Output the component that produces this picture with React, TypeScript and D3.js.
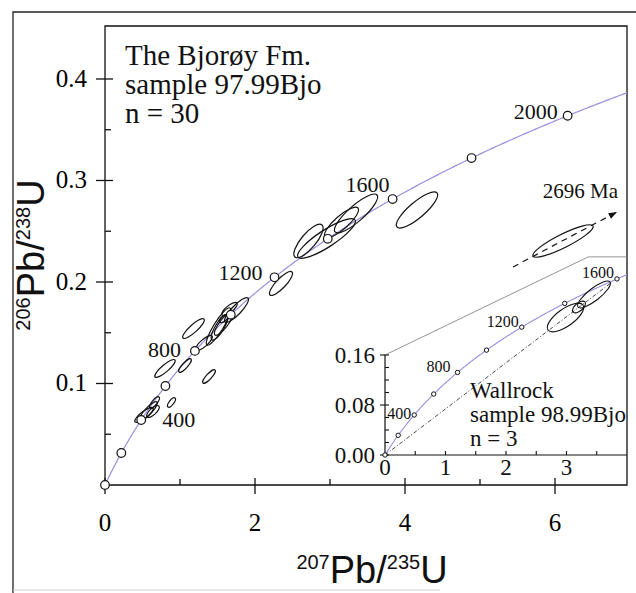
import React from "react";
import * as d3 from "d3";

// decay constants (per year)
const L238 = 1.55125e-10;
const L235 = 9.8485e-10;

const mainAges = [0, 200, 400, 600, 800, 1000, 1200, 1400, 1600, 1800, 2000];
const mainLabels = [400, 800, 1200, 1600, 2000];
const insetAges = [0, 200, 400, 600, 800, 1000, 1200, 1400, 1600];
const insetLabels = [400, 800, 1200, 1600];

const xMajor = [0, 2, 4, 6];
const xMinor = [1, 3, 5];
const yMajor = [0.1, 0.2, 0.3, 0.4];
const yMinor = [0.05, 0.15, 0.25, 0.35];

const insetXMajor = [0, 1, 2, 3];
const insetXMinor = [0.5, 1, 1.5, 2, 2.5, 3, 3.5];
const insetYMajor = [0, 0.08, 0.16];
const insetYMinor = [0.02, 0.04, 0.06, 0.1, 0.12, 0.14];

// error ellipses: major axis end points [x1, y1, x2, y2] and minor/major ratio
const sampleEllipses = [
  [0.4, 0.0621, 0.64, 0.0759, 0.3],
  [0.467, 0.064, 0.693, 0.0818, 0.28],
  [0.56, 0.067, 0.72, 0.0778, 0.4],
  [0.6, 0.0759, 0.72, 0.0867, 0.35],
  [0.84, 0.0768, 0.933, 0.0857, 0.4],
  [0.667, 0.1064, 0.933, 0.1232, 0.27],
  [0.987, 0.1113, 1.147, 0.1241, 0.3],
  [1.307, 0.1005, 1.467, 0.1133, 0.3],
  [1.04, 0.1448, 1.32, 0.1635, 0.27],
  [1.213, 0.133, 1.427, 0.1468, 0.33],
  [1.36, 0.1379, 1.667, 0.1744, 0.22],
  [1.427, 0.1429, 1.627, 0.1675, 0.3],
  [1.467, 0.1478, 1.693, 0.1695, 0.3],
  [1.533, 0.1606, 1.64, 0.1675, 0.5],
  [1.6, 0.1606, 1.907, 0.1842, 0.28],
  [1.56, 0.1675, 1.76, 0.1793, 0.35],
  [2.2, 0.1872, 2.493, 0.2099, 0.3],
  [2.533, 0.2246, 2.893, 0.2562, 0.35],
  [2.573, 0.2246, 3.333, 0.2611, 0.25],
  [2.933, 0.2443, 3.373, 0.2729, 0.3],
  [3.067, 0.2493, 3.627, 0.2857, 0.28],
  [3.893, 0.2542, 4.427, 0.2877, 0.3],
  [5.707, 0.2256, 6.507, 0.2552, 0.2],
];

const wallrockEllipses = [
  [2.694, 0.2, 3.273, 0.24, 0.4],
  [3.19, 0.2368, 3.719, 0.2768, 0.3],
  [3.107, 0.2288, 3.306, 0.2448, 0.5],
];

const trendLine = [[5.44, 0.2148], [6.827, 0.269]];
const wallrockDiscordia = [[0, 0], [3.75, 0.2765]];
const insetOutline = [[0, 0.16], [3.36, 0.317], [4, 0.317]];

const sampleText = ["The Bjorøy Fm.", "sample 97.99Bjo", "n = 30"];
const wallrockText = ["Wallrock", "sample 98.99Bjo", "n = 3"];
const trendAgeText = "2696 Ma";

// label offsets from the age marker, px
const mainLabelPos: Record<number, [number, number, string]> = {
  400: [21, 7, "start"],
  800: [-14, 6, "end"],
  1200: [-12, 3, "end"],
  1600: [-3, -7, "end"],
  2000: [-10, 3, "end"],
};
const insetLabelPos: Record<number, [number, number, string]> = {
  400: [-3, 4, "end"],
  800: [-7, 0, "end"],
  1200: [-3, 0, "end"],
  1600: [-3, -1, "end"],
};

const serif = "'Liberation Serif', 'Times New Roman', serif";
const sans = "'Liberation Sans', Arial, sans-serif";
const purple = "#9d8ce0";

const conc = (ma: number) => [Math.exp(L235 * ma * 1e6) - 1, Math.exp(L238 * ma * 1e6) - 1];

function ellipseEl(e: number[], sx: any, sy: any, key: string, extra: any = {}) {
  const [x1, y1, x2, y2, r] = e;
  const px1 = sx(x1), py1 = sy(y1), px2 = sx(x2), py2 = sy(y2);
  const cx = (px1 + px2) / 2, cy = (py1 + py2) / 2;
  const a = Math.hypot(px2 - px1, py2 - py1) / 2;
  const ang = (Math.atan2(py2 - py1, px2 - px1) * 180) / Math.PI;
  return (
    <ellipse key={key} cx={cx} cy={cy} rx={a} ry={a * r}
      transform={`rotate(${ang},${cx},${cy})`} fill="none" stroke="#111" strokeWidth={1.2} {...extra} />
  );
}

export default function App() {
  const W = 636, H = 593;
  const x = d3.scaleLinear().domain([0, 6.96]).range([105, 627]);
  const y = d3.scaleLinear().domain([0, 0.4522]).range([485, 26]);
  const ix = d3.scaleLinear().domain([0, 4]).range([385, 627]);
  const iy = d3.scaleLinear().domain([0, 0.16]).range([455, 355]);

  const tMain = Math.log(1 + x.domain()[1]) / L235 / 1e6;
  const tInset = Math.log(1 + ix.domain()[1]) / L235 / 1e6;
  const mainCurve = d3.range(0, tMain, 5).concat([tMain]).map(conc);
  const insetCurve = d3.range(0, tInset, 5).concat([tInset]).map(conc);

  const line = d3.line<number[]>().x((d) => x(d[0])).y((d) => y(d[1]));
  const iline = d3.line<number[]>().x((d) => ix(d[0])).y((d) => iy(d[1]));

  const [t0, t1] = trendLine;
  const ax = x(t1[0]), ay = y(t1[1]);
  const angArrow = Math.atan2(ay - y(t0[1]), ax - x(t0[0]));

  return (
    <svg width={W} height={H} style={{ position: "absolute", left: 0, top: 0, background: "#fff" }}>
      {/* outer frame */}
      <path d="M13,593 V12 H636" fill="none" stroke="#222" strokeWidth={1.3} />
      <line x1={13} x2={440} y1={590} y2={590} stroke="#ccc" strokeWidth={1} />

      {/* plot box */}
      <path d={`M${x(0)},${y(0)} V${y.range()[1]} H${x.range()[1]} V${y(0)} H${x(0)}`} fill="none" stroke="#111" strokeWidth={1.3} />

      {/* x ticks */}
      {xMajor.map((v) => (
        <g key={"xm" + v}>
          <line x1={x(v)} x2={x(v)} y1={y(0) - 7} y2={y(0) + 9} stroke="#111" strokeWidth={1.3} />
          <text x={x(v)} y={y(0) + 46} textAnchor="middle" fontFamily={serif} fontSize={25}>{v}</text>
        </g>
      ))}
      {xMinor.map((v) => (
        <line key={"xn" + v} x1={x(v)} x2={x(v)} y1={y(0) - 6} y2={y(0)} stroke="#111" strokeWidth={1.3} />
      ))}
      {/* y ticks */}
      {yMajor.map((v) => (
        <g key={"ym" + v}>
          <line x1={x(0) - 9} x2={x(0) + 8} y1={y(v)} y2={y(v)} stroke="#111" strokeWidth={1.3} />
          <text x={x(0) - 18} y={y(v) + 8} textAnchor="end" fontFamily={serif} fontSize={25}>{v.toFixed(1)}</text>
        </g>
      ))}
      {yMinor.map((v) => (
        <line key={"yn" + v} x1={x(0)} x2={x(0) + 6} y1={y(v)} y2={y(v)} stroke="#111" strokeWidth={1.3} />
      ))}

      {/* axis titles */}
      <text x={372} y={583} textAnchor="middle" fontFamily={sans} fill="#111">
        <tspan fontSize={20} dy={-14}>207</tspan>
        <tspan fontSize={38} dy={14}>Pb/</tspan>
        <tspan fontSize={20} dy={-14}>235</tspan>
        <tspan fontSize={38} dy={14}>U</tspan>
      </text>
      <text transform="translate(44,255) rotate(-90)" textAnchor="middle" fontFamily={sans} fill="#111">
        <tspan fontSize={20} dy={-14}>206</tspan>
        <tspan fontSize={38} dy={14}>Pb/</tspan>
        <tspan fontSize={20} dy={-14}>238</tspan>
        <tspan fontSize={38} dy={14}>U</tspan>
      </text>

      {/* sample text */}
      {sampleText.map((s, i) => (
        <text key={s} x={125} y={65 + i * 29} fontFamily={serif} fontSize={29} fill="#111">{s}</text>
      ))}

      {/* concordia main */}
      <path d={line(mainCurve) || ""} fill="none" stroke={purple} strokeWidth={1.2} />

      {/* ellipses */}
      {sampleEllipses.map((e, i) => ellipseEl(e, x, y, "se" + i))}

      {/* trend to 2696 Ma */}
      <path d={line(trendLine) || ""} fill="none" stroke="#111" strokeWidth={1.2} strokeDasharray="6,5" />
      <path d={`M${ax},${ay} l${-9 * Math.cos(angArrow - 0.35)},${-9 * Math.sin(angArrow - 0.35)} l${9 * Math.cos(angArrow - 0.35) - 9 * Math.cos(angArrow + 0.35)},${9 * Math.sin(angArrow - 0.35) - 9 * Math.sin(angArrow + 0.35)} Z`} fill="#111" />
      <text x={618} y={198} textAnchor="end" fontFamily={serif} fontSize={21} fill="#111">{trendAgeText}</text>

      {/* concordia markers */}
      {mainAges.map((a) => {
        const [cx, cy] = conc(a);
        return <circle key={"mc" + a} cx={x(cx)} cy={y(cy)} r={4.3} fill="#fff" stroke="#111" strokeWidth={1.2} />;
      })}
      {mainLabels.map((a) => {
        const [cx, cy] = conc(a);
        const [dx, dy, anchor] = mainLabelPos[a];
        return (
          <text key={"ml" + a} x={x(cx) + dx} y={y(cy) + dy} textAnchor={anchor as any} fontFamily={serif} fontSize={22} fill="#111">{a}</text>
        );
      })}

      {/* inset */}
      <path d={iline(insetOutline) || ""} fill="none" stroke="#777" strokeWidth={0.8} />
      <line x1={ix(0)} x2={ix(0)} y1={iy(0)} y2={iy(0.16)} stroke="#111" strokeWidth={1.2} />
      <line x1={ix(0)} x2={ix.range()[1]} y1={iy(0)} y2={iy(0)} stroke="#111" strokeWidth={1.2} />
      {insetXMinor.map((v) => (
        <line key={"ixn" + v} x1={ix(v)} x2={ix(v)} y1={iy(0) - 4} y2={iy(0)} stroke="#111" strokeWidth={1.1} />
      ))}
      {insetXMajor.map((v) => (
        <text key={"ixm" + v} x={ix(v)} y={iy(0) + 20} textAnchor="middle" fontFamily={serif} fontSize={23} fill="#111">{v}</text>
      ))}
      {insetYMinor.map((v) => (
        <line key={"iyn" + v} x1={ix(0)} x2={ix(0) + 4} y1={iy(v)} y2={iy(v)} stroke="#111" strokeWidth={1.1} />
      ))}
      {insetYMajor.map((v) => (
        <g key={"iym" + v}>
          <line x1={ix(0) - 5} x2={ix(0) + 4} y1={iy(v)} y2={iy(v)} stroke="#111" strokeWidth={1.1} />
          <text x={ix(0) - 10} y={iy(v) + 8} textAnchor="end" fontFamily={serif} fontSize={23} fill="#111">{v.toFixed(2)}</text>
        </g>
      ))}
      <path d={iline(insetCurve) || ""} fill="none" stroke={purple} strokeWidth={1.1} />
      <path d={iline(wallrockDiscordia) || ""} fill="none" stroke="#333" strokeWidth={0.9} strokeDasharray="4,2,1,2" />
      {wallrockEllipses.map((e, i) => ellipseEl(e, ix, iy, "we" + i, { strokeWidth: 1.1 }))}
      {insetAges.map((a) => {
        const [cx, cy] = conc(a);
        return <circle key={"ic" + a} cx={ix(cx)} cy={iy(cy)} r={2.2} fill="#fff" stroke="#111" strokeWidth={1} />;
      })}
      {insetLabels.map((a) => {
        const [cx, cy] = conc(a);
        const [dx, dy, anchor] = insetLabelPos[a];
        return (
          <text key={"il" + a} x={ix(cx) + dx} y={iy(cy) + dy} textAnchor={anchor as any} fontFamily={serif} fontSize={16} fill="#111">{a}</text>
        );
      })}
      {wallrockText.map((s, i) => (
        <text key={s} x={470} y={398 + i * 24} fontFamily={serif} fontSize={23} fill="#111">{s}</text>
      ))}
    </svg>
  );
}
